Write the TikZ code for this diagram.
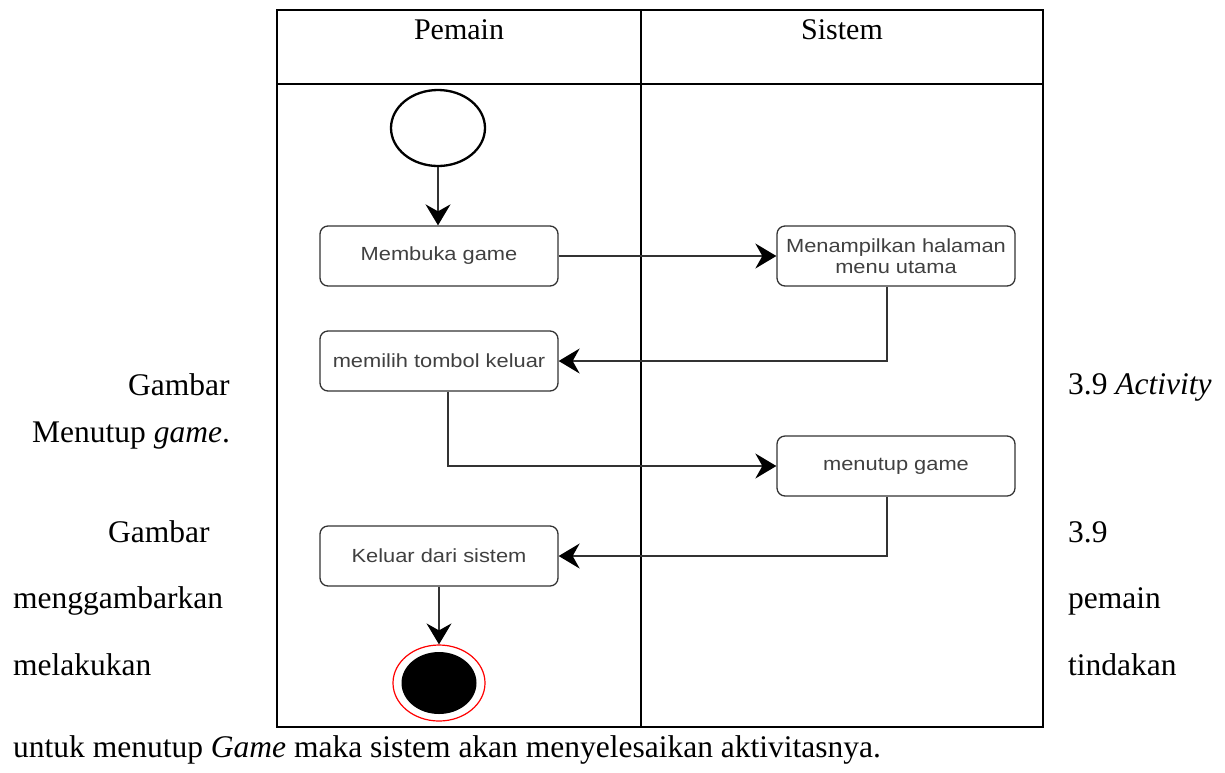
\documentclass[tikz,border=0pt]{standalone}
\usepackage{fontspec}
\setmainfont{Liberation Serif}
\newfontfamily\boxfont[FakeStretch=1.15]{Liberation Sans}
\usetikzlibrary{arrows.meta,shapes.geometric}
\definecolor{ink}{HTML}{333333}
\definecolor{labelgray}{HTML}{404040}

\begin{document}
\begin{tikzpicture}[x=1pt,y=-1pt,
  lane/.style={line width=2.2pt,draw=black},
  act/.style={draw=ink,line width=1.3pt,rounded corners=8pt,
    minimum width=238pt,minimum height=60pt,inner sep=0pt,
    font=\boxfont\fontsize{19}{21}\selectfont,text=labelgray,align=center},
  flow/.style={draw=ink,line width=1.3pt,
    -{Stealth[length=21pt,width=25pt,inset=7pt,color=black]}},
  prose/.style={font=\fontsize{31.5}{36}\selectfont,anchor=base west,inner sep=0pt},
  header/.style={font=\fontsize{30}{34}\selectfont,anchor=base,inner sep=0pt},
]
\useasboundingbox (0,0) rectangle (1225,772);

% swimlane frame
\draw[lane] (277,10) rectangle (1043,727);
\draw[lane] (277,84) -- (1043,84);
\draw[lane] (641,10) -- (641,727);
\node[header] (hpemain) at (459,39) {Pemain};
\node[header] (hsistem) at (842,39) {Sistem};

% start and end
\node[ellipse,draw=black,line width=2.3pt,minimum width=94pt,minimum height=76pt,inner sep=0pt]
  (start) at (438,128) {};
\node[ellipse,draw=red,line width=1.2pt,fill=white,minimum width=92pt,minimum height=76pt,inner sep=0pt]
  (endring) at (439,683) {};
\node[ellipse,fill=black,minimum width=75pt,minimum height=62pt,inner sep=0pt]
  (enddot) at (439,683) {};

% activities
\node[act] (open)   at (439,256) {Membuka game};
\node[act] (menu)   at (896,256) {Menampilkan halaman\\menu utama};
\node[act] (choose) at (439,361) {memilih tombol keluar};
\node[act] (close)  at (896,466) {menutup game};
\node[act] (quit)   at (439,556) {Keluar dari sistem};

% control flow
\draw[flow] (start.south) -- (start.south |- open.north);
\draw[flow] (open) -- (menu);
\draw[flow] ([xshift=-9pt]menu.south) |- (choose.east);
\draw[flow] ([xshift=9pt]choose.south) |- (close.west);
\draw[flow] ([xshift=-9pt]close.south) |- (quit.east);
\draw[flow] (quit.south -| endring.north) -- (endring.north);

% surrounding paragraph text
\node[prose] (p1) at (128,395) {Gambar};
\node[prose] (p2) at (1068,394) {3.9 \textit{Activity}};
\node[prose] (p3) at (32,442) {Menutup \textit{game}.};
\node[prose] (p4) at (108,542) {Gambar};
\node[prose] (p5) at (1068,542) {3.9};
\node[prose] (p6) at (13,608) {menggambarkan};
\node[prose] (p7) at (1068,608) {pemain};
\node[prose] (p8) at (13,675) {melakukan};
\node[prose] (p9) at (1068,675) {tindakan};
\node[prose] (p10) at (13,757) {untuk menutup \textit{Game} maka sistem akan menyelesaikan aktivitasnya.};
\end{tikzpicture}
\end{document}
